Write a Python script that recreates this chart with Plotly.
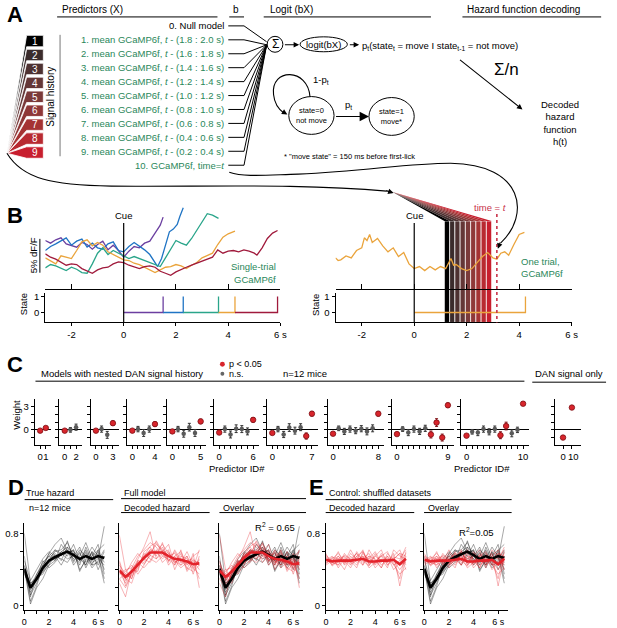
import plotly.graph_objects as go

W, H = 617, 628
FONT = "Liberation Sans, Arial, Helvetica, sans-serif"
GREEN = "#2a875a"
RED = "#d8252c"
DARKRED = "#7d0f14"
CRIMSON = "#c8324a"

# ── data: panel A ────────────────────────────────────────────────────────────
predictor_labels = [
    "0. Null model",
    "1. mean GCaMP6f, <i>t</i> - (1.8 : 2.0 s)",
    "2. mean GCaMP6f, <i>t</i> - (1.6 : 1.8 s)",
    "3. mean GCaMP6f, <i>t</i> - (1.4 : 1.6 s)",
    "4. mean GCaMP6f, <i>t</i> - (1.2 : 1.4 s)",
    "5. mean GCaMP6f, <i>t</i> - (1.0 : 1.2 s)",
    "6. mean GCaMP6f, <i>t</i> - (0.8 : 1.0 s)",
    "7. mean GCaMP6f, <i>t</i> - (0.6 : 0.8 s)",
    "8. mean GCaMP6f, <i>t</i> - (0.4 : 0.6 s)",
    "9. mean GCaMP6f, <i>t</i> - (0.2 : 0.4 s)",
    "10. GCaMP6f, time=<i>t</i>",
]
history_ids = ["1", "2", "3", "4", "5", "6", "7", "8", "9"]
history_colors = ["#000000", "#3b2c2c", "#4e3232", "#643737", "#7b3a3a",
                  "#8f3838", "#a53333", "#b82a31", "#c81e2e"]

# ── data: panel B (dF/F in %) ────────────────────────────────────────────────
purple_t = [-3.0, -2.8, -2.6, -2.4, -2.2, -2.0, -1.8, -1.6, -1.4, -1.2, -1.0, -0.8,
            -0.6, -0.4, -0.2, 0.0, 0.2, 0.4, 0.6, 0.8, 1.0, 1.2, 1.4, 1.51]
purple_y = [4.5, 4.1, 4.6, 4.9, 4.0, 3.8, 3.5, 4.2, 3.9, 3.2, 3.9, 4.4,
            3.1, 3.8, 3.0, 2.0, 2.9, 3.6, 3.4, 4.1, 4.4, 5.6, 6.8, 8.0]
blue_t = [-3.0, -2.8, -2.6, -2.4, -2.2, -2.0, -1.8, -1.6, -1.4, -1.2, -1.0, -0.8, -0.6,
          -0.4, -0.2, 0.0, 0.2, 0.4, 0.6, 0.8, 1.0, 1.2, 1.3, 1.45, 1.6, 1.75, 1.9,
          2.05, 2.15, 2.28]
blue_y = [3.0, 3.6, 4.0, 4.5, 4.9, 3.8, 4.4, 4.7, 3.5, 4.1, 3.4, 3.2, 4.0,
          4.3, 3.0, 2.8, 3.6, 4.2, 3.7, 3.1, 2.4, 1.2, 0.6, 1.8, 3.8, 5.8, 6.2,
          6.9, 8.1, 9.4]
teal_t = [-3.0, -2.8, -2.6, -2.4, -2.2, -2.0, -1.8, -1.6, -1.4, -1.2, -1.0, -0.8, -0.6,
          -0.4, -0.2, 0.0, 0.2, 0.4, 0.6, 0.8, 1.0, 1.2, 1.4, 1.6, 1.8, 2.0, 2.2,
          2.4, 2.6, 2.8, 3.0, 3.2, 3.4, 3.63]
teal_y = [0.4, 0.9, 0.7, 0.3, 0.0, 0.5, 0.2, -0.3, -0.4, 1.0, 2.6, 3.4, 2.4,
          3.0, 2.6, 2.2, 1.8, 2.1, 1.8, 1.6, 1.3, 1.0, 0.6, 1.9, 3.2, 4.5, 4.1,
          3.8, 4.8, 6.0, 7.2, 8.5, 8.3, 7.8]
orange_t = [-3.0, -2.8, -2.6, -2.4, -2.2, -2.0, -1.8, -1.6, -1.4, -1.2, -1.0, -0.8, -0.6,
            -0.4, -0.2, 0.0, 0.2, 0.4, 0.6, 0.8, 1.0, 1.2, 1.4, 1.6, 1.8, 2.0, 2.2,
            2.4, 2.6, 2.8, 3.0, 3.2, 3.4, 3.6, 3.8, 4.0, 4.26]
orange_y = [1.9, 1.4, 1.0, 2.2, 2.0, 1.8, 3.0, 4.3, 4.6, 3.7, 4.2, 3.8, 2.8,
            2.4, 2.0, 1.6, 1.5, 1.1, 0.9, 0.5, 0.2, -0.3, 0.1, 0.5, 0.6, 0.9, 0.7,
            0.3, 0.8, 1.2, 1.9, 2.3, 2.6, 3.9, 5.0, 5.5, 5.9]
maroon_t = [-3.0, -2.8, -2.6, -2.4, -2.2, -2.0, -1.8, -1.6, -1.4, -1.2, -1.0, -0.8, -0.6,
            -0.4, -0.2, 0.0, 0.2, 0.4, 0.6, 0.8, 1.0, 1.2, 1.4, 1.6, 1.8, 2.0, 2.2,
            2.4, 2.6, 2.8, 3.0, 3.2, 3.4, 3.6, 3.8, 4.0, 4.2, 4.4, 4.6, 4.8, 5.0,
            5.1, 5.3, 5.5, 5.7, 5.89]
maroon_y = [2.5, 2.0, 1.7, 1.2, 0.8, 1.0, 0.9, 0.3, 0.0, -0.4, 0.1, 0.4, 0.5,
            1.0, 1.3, 1.2, 0.8, 0.5, 0.3, 0.6, 0.7, 0.5, -0.1, -0.4, -0.7, -0.2, 0.2,
            0.5, 0.8, 1.1, 1.3, 1.6, 2.0, 3.1, 2.6, 2.9, 3.0, 2.8, 3.1, 2.9, 2.6,
            2.3, 3.4, 4.8, 5.6, 6.0]
trial_colors = ["#6b3fa0", "#1f74c4", "#2aa58a", "#eaa43c", "#a01a3c"]
lick_times = [1.51, 2.28, 3.63, 4.26, 5.89]

one_trial_t = [-3.0, -2.9, -2.8, -2.6, -2.4, -2.2, -2.0, -1.9, -1.8, -1.7, -1.6, -1.4,
               -1.2, -1.0, -0.8, -0.6, -0.4, -0.2, 0.0, 0.2, 0.4, 0.6, 0.8, 1.0, 1.2,
               1.4, 1.5, 1.6, 1.8, 2.0, 2.2, 2.4, 2.6, 2.8, 3.0, 3.15, 3.3, 3.45, 3.6,
               3.8, 4.0, 4.2]
one_trial_y = [1.9, 1.5, 1.6, 2.2, 1.9, 3.0, 3.4, 4.9, 4.5, 5.4, 4.2, 4.8,
               3.7, 2.8, 3.4, 2.1, 2.7, 1.0, 0.3, 0.6, 0.0, 0.6, 0.1, 0.6, 0.3,
               1.8, 0.8, 0.9, 0.3, 0.0, 0.3, 1.2, 2.1, 2.7, 1.9, 1.7, 2.6, 2.8, 2.3,
               3.9, 5.4, 5.7]
one_trial_lick = 4.24
time_t = 3.15

# ── data: panel C (weights) ──────────────────────────────────────────────────
nested_w = [
    [-0.1, 0.25],
    [-0.1, 0.0, 0.35],
    [-0.1, 0.1, -0.65, 0.87],
    [-0.1, 0.1, -0.4, 0.1, 0.75],
    [-0.2, 0.1, -0.5, 0.35, -0.4, 1.1],
    [-0.35, 0.1, -0.6, 0.15, 0.1, -0.2, 1.3],
    [-0.4, 0.1, -0.6, 0.3, -0.1, 0.35, -0.8, 2.1],
    [-0.5, 0.2, -0.2, 0.1, -0.1, 0.15, -0.2, 0.2, 2.1],
    [-0.55, 0.1, -0.35, 0.1, -0.2, 0.2, -0.6, 0.95, -1.0, 3.2],
    [-0.75, -0.25, -0.35, 0.1, -0.25, 0.1, -0.7, 0.5, -0.45, 0.0, 3.4],
]
nested_err = [
    [0.15, 0.2],
    [0.15, 0.3, 0.4],
    [0.15, 0.4, 0.45, 0.3],
    [0.15, 0.35, 0.45, 0.4, 0.3],
    [0.15, 0.35, 0.45, 0.5, 0.45, 0.3],
    [0.15, 0.4, 0.45, 0.5, 0.45, 0.45, 0.3],
    [0.15, 0.35, 0.4, 0.5, 0.45, 0.45, 0.4, 0.3],
    [0.15, 0.3, 0.4, 0.4, 0.4, 0.4, 0.45, 0.45, 0.3],
    [0.15, 0.3, 0.4, 0.4, 0.4, 0.4, 0.45, 0.5, 0.45, 0.3],
    [0.15, 0.3, 0.4, 0.4, 0.4, 0.4, 0.45, 0.5, 0.45, 0.35, 0.2],
]
nested_sig = [
    [1, 1],
    [1, 0, 0],
    [1, 0, 0, 1],
    [1, 0, 0, 0, 1],
    [1, 0, 0, 0, 0, 1],
    [1, 0, 0, 0, 0, 0, 1],
    [1, 0, 0, 0, 0, 0, 1, 1],
    [1, 0, 0, 0, 0, 0, 0, 0, 1],
    [1, 0, 0, 0, 0, 0, 1, 1, 1, 1],
    [1, 0, 0, 0, 0, 0, 1, 1, 0, 0, 1],
]
dan_only_w = [-1.0, 2.9]
dan_only_err = [0.15, 0.15]
dan_only_labels = ["0", "\u00a010"]

# ── data: panels D/E (hazard) ────────────────────────────────────────────────
hazard_t = [0, 0.5, 1.0, 1.5, 2.0, 2.5, 3.0, 3.5, 4.0, 4.5, 5.0, 5.5, 6.0, 6.5]
true_mean = [0.41, 0.20, 0.30, 0.42, 0.50, 0.54, 0.57, 0.60, 0.56, 0.52, 0.55, 0.52, 0.55, 0.53]
dec_mean = [0.39, 0.32, 0.38, 0.46, 0.53, 0.59, 0.59, 0.59, 0.55, 0.52, 0.51, 0.49, 0.46, 0.47]
shuf_mean = [0.51, 0.49, 0.50, 0.50, 0.50, 0.51, 0.52, 0.49, 0.49, 0.50, 0.50, 0.51, 0.46, 0.52]
true_mice = [
    [0.45, 0.15, 0.28, 0.40, 0.52, 0.60, 0.62, 0.70, 0.55, 0.48, 0.60, 0.45, 0.62, 0.40],
    [0.38, 0.22, 0.35, 0.48, 0.55, 0.50, 0.68, 0.58, 0.62, 0.40, 0.50, 0.58, 0.45, 0.60],
    [0.80, 0.25, 0.30, 0.38, 0.45, 0.58, 0.50, 0.65, 0.48, 0.60, 0.42, 0.55, 0.68, 0.35],
    [0.42, 0.05, 0.22, 0.45, 0.58, 0.52, 0.60, 0.55, 0.68, 0.50, 0.62, 0.48, 0.52, 0.88],
    [0.36, 0.18, 0.32, 0.35, 0.48, 0.62, 0.55, 0.72, 0.50, 0.58, 0.45, 0.60, 0.40, 0.55],
    [0.50, 0.28, 0.40, 0.52, 0.60, 0.55, 0.52, 0.48, 0.58, 0.45, 0.65, 0.50, 0.58, 0.30],
    [0.40, 0.12, 0.25, 0.42, 0.58, 0.68, 0.75, 0.60, 0.52, 0.62, 0.55, 0.42, 0.50, 0.62],
    [0.44, 0.20, 0.30, 0.50, 0.42, 0.48, 0.58, 0.62, 0.45, 0.55, 0.70, 0.52, 0.60, 0.48],
    [0.35, 0.22, 0.28, 0.38, 0.50, 0.55, 0.45, 0.58, 0.62, 0.38, 0.52, 0.65, 0.55, 0.25],
    [0.55, 0.10, 0.35, 0.45, 0.55, 0.62, 0.58, 0.52, 0.55, 0.65, 0.48, 0.55, 0.62, 0.68],
    [0.40, 0.02, 0.20, 0.30, 0.45, 0.50, 0.60, 0.65, 0.58, 0.50, 0.58, 0.45, 0.48, 0.55],
    [0.38, 0.25, 0.32, 0.40, 0.48, 0.52, 0.56, 0.60, 0.60, 0.52, 0.45, 0.60, 0.52, 0.45],
]
dec_mice = [
    [0.78, 0.40, 0.42, 0.55, 0.62, 0.70, 0.65, 0.55, 0.60, 0.48, 0.52, 0.42, 0.38, 0.45],
    [0.30, 0.20, 0.35, 0.42, 0.55, 0.62, 0.58, 0.65, 0.50, 0.55, 0.45, 0.50, 0.40, 0.52],
    [0.45, 0.35, 0.30, 0.50, 0.48, 0.55, 0.72, 0.60, 0.68, 0.45, 0.58, 0.38, 0.48, 0.30],
    [0.25, 0.10, 0.40, 0.38, 0.60, 0.65, 0.55, 0.70, 0.48, 0.62, 0.50, 0.55, 0.35, 0.55],
    [0.40, 0.30, 0.25, 0.45, 0.52, 0.48, 0.60, 0.52, 0.58, 0.50, 0.42, 0.48, 0.50, 0.40],
    [0.35, 0.38, 0.45, 0.35, 0.45, 0.58, 0.68, 0.62, 0.45, 0.55, 0.60, 0.45, 0.55, 0.60],
    [0.50, 0.28, 0.38, 0.52, 0.65, 0.82, 0.52, 0.58, 0.62, 0.40, 0.55, 0.52, 0.42, 0.35],
    [0.38, 0.25, 0.42, 0.48, 0.42, 0.50, 0.62, 0.48, 0.55, 0.58, 0.48, 0.60, 0.45, 0.50],
    [0.42, 0.32, 0.33, 0.40, 0.58, 0.52, 0.48, 0.55, 0.52, 0.45, 0.62, 0.40, 0.58, 0.20],
    [0.30, 0.35, 0.48, 0.58, 0.50, 0.62, 0.60, 0.68, 0.58, 0.50, 0.45, 0.55, 0.42, 0.62],
    [0.48, 0.22, 0.36, 0.44, 0.55, 0.66, 0.70, 0.58, 0.50, 0.60, 0.48, 0.50, 0.52, 0.44],
    [0.36, 0.40, 0.30, 0.50, 0.46, 0.56, 0.52, 0.62, 0.56, 0.48, 0.52, 0.46, 0.50, 0.48],
]
shuf_mice = [
    [0.55, 0.48, 0.60, 0.45, 0.52, 0.58, 0.45, 0.62, 0.50, 0.42, 0.55, 0.48, 0.30, 0.60],
    [0.48, 0.52, 0.45, 0.58, 0.50, 0.42, 0.60, 0.48, 0.55, 0.62, 0.45, 0.52, 0.58, 0.40],
    [0.52, 0.45, 0.55, 0.48, 0.62, 0.50, 0.55, 0.42, 0.48, 0.55, 0.60, 0.45, 0.50, 0.65],
    [0.50, 0.55, 0.42, 0.52, 0.45, 0.60, 0.50, 0.55, 0.42, 0.50, 0.48, 0.58, 0.22, 0.55],
    [0.45, 0.50, 0.52, 0.55, 0.48, 0.52, 0.62, 0.45, 0.58, 0.45, 0.52, 0.50, 0.45, 0.48],
    [0.58, 0.44, 0.50, 0.40, 0.55, 0.48, 0.52, 0.58, 0.45, 0.52, 0.42, 0.62, 0.55, 0.52],
    [0.50, 0.52, 0.58, 0.50, 0.42, 0.55, 0.48, 0.52, 0.60, 0.48, 0.55, 0.40, 0.48, 0.58],
    [0.54, 0.46, 0.48, 0.56, 0.52, 0.45, 0.58, 0.50, 0.46, 0.58, 0.50, 0.55, 0.62, 0.45],
    [0.48, 0.50, 0.55, 0.46, 0.58, 0.52, 0.45, 0.55, 0.52, 0.42, 0.58, 0.50, 0.40, 0.50],
    [0.52, 0.48, 0.45, 0.52, 0.48, 0.55, 0.60, 0.46, 0.50, 0.55, 0.45, 0.54, 0.52, 0.62],
    [0.46, 0.54, 0.52, 0.48, 0.50, 0.58, 0.50, 0.44, 0.55, 0.50, 0.52, 0.46, 0.35, 0.42],
    [0.56, 0.50, 0.48, 0.54, 0.46, 0.50, 0.55, 0.52, 0.48, 0.56, 0.48, 0.52, 0.58, 0.55],
]
r2_full = 0.65
r2_shuf = 0.05

# ── helpers (background axis is in pixel units) ─────────────────────────────
shapes, annotations, traces = [], [], []
layout = dict(
    width=W, height=H, margin=dict(l=0, r=0, t=0, b=0),
    paper_bgcolor="white", plot_bgcolor="rgba(0,0,0,0)", showlegend=False,
    font=dict(family=FONT, size=9.5, color="black"),
    xaxis=dict(domain=[0, 1], range=[0, W], visible=False, fixedrange=True),
    yaxis=dict(domain=[0, 1], range=[H, 0], visible=False, fixedrange=True),
)


def txt(x, y, s, size=9.5, color="black", xa="center", ya="middle", angle=0):
    annotations.append(dict(x=x, y=y, xref="x", yref="y", text=s, showarrow=False,
                            font=dict(family=FONT, size=size, color=color),
                            xanchor=xa, yanchor=ya, textangle=angle))


def seg(x0, y0, x1, y1, color="black", width=1, dash="solid"):
    shapes.append(dict(type="line", xref="x", yref="y", x0=x0, y0=y0, x1=x1, y1=y1,
                       line=dict(color=color, width=width, dash=dash), layer="above"))


def poly(pts, fill, edge="white", width=0.8, layer="above"):
    path = "M " + " L ".join(f"{x},{y}" for x, y in pts) + " Z"
    shapes.append(dict(type="path", xref="x", yref="y", path=path, fillcolor=fill,
                       line=dict(color=edge, width=width), layer=layer))


def curve(path):
    shapes.append(dict(type="path", xref="x", yref="y", path=path,
                       line=dict(color="black", width=1.1), layer="above"))


def oval(x0, y0, x1, y1):
    shapes.append(dict(type="circle", xref="x", yref="y", x0=x0, y0=y0, x1=x1, y1=y1,
                       line=dict(color="black", width=1), layer="above"))


def arrow(tip, tail, size=1.0, head=2):
    annotations.append(dict(x=tip[0], y=tip[1], ax=tail[0], ay=tail[1], xref="x", yref="y",
                            axref="x", ayref="y", text="", showarrow=True, arrowhead=head,
                            arrowsize=size, arrowwidth=1.1, arrowcolor="black"))


n_ax = [1]


def add_axes(x0, x1, y0, y1, xa, ya):
    n_ax[0] += 1
    k = n_ax[0]
    layout[f"xaxis{k}"] = dict(domain=[x0 / W, x1 / W], anchor=f"y{k}", **xa)
    layout[f"yaxis{k}"] = dict(domain=[1 - y1 / H, 1 - y0 / H], anchor=f"x{k}", **ya)
    return f"x{k}", f"y{k}"


def ax_style(**kw):
    d = dict(showgrid=False, zeroline=False, showline=True, linecolor="black", linewidth=1,
             ticks="outside", ticklen=3, tickwidth=1, tickcolor="black", tickangle=0,
             tickfont=dict(family=FONT, size=9.5), fixedrange=True)
    d.update(kw)
    return d


# ── A: headers ───────────────────────────────────────────────────────────────
txt(12, 13, "<b>A</b>", size=22)
txt(91, 8, "Predictors (X)", size=10)
seg(55, 15, 218, 15)
txt(237, 8, "b", size=10)
seg(230, 15, 245, 15)
txt(293, 8, "Logit (bX)", size=10)
seg(265, 15, 435, 15)
txt(529, 8, "Hazard function decoding", size=10)
seg(467, 15, 608, 15)

# predictor rows and their lines into the sum
for i, lab in enumerate(predictor_labels):
    y = 24 + 14 * i
    txt(227, y, lab, color="black" if i == 0 else GREEN, xa="right")
    seg(229, y, 245, y)
    seg(245, y, 268, 43 if i else 40)

# signal history fan
for i, num in enumerate(history_ids):
    top = 33.5 + 14 * i
    poly([(4, 152), (24, top), (41, top), (41, top + 11.5), (24, top + 11.5)], history_colors[i])
    txt(33, top + 6, num, color="white", size=10)
txt(48, 95, "Signal history", size=10, angle=-90)
seg(58, 33, 58, 155, color="#777777")

# sum, logit, output
oval(268.5, 34.5, 284.5, 50.5)
txt(276.5, 42.5, "Σ", size=12)
arrow((301, 43), (285, 43))
oval(302, 35, 350, 50)
txt(326, 42.5, "logit(bX)", size=9.5)
arrow((362, 43), (351, 43))
txt(363, 44, "p<sub>t</sub>(state<sub>t</sub> = move I state<sub>t-1</sub> = not move)", xa="left")
arrow((528, 108), (463, 57))
txt(512, 68, "Σ/n", size=17)
txt(566, 122, "Decoded<br>hazard<br>function<br>h(t)")

# state diagram
oval(290.5, 95, 336.5, 133)
txt(313.5, 114, "state=0<br>not move", size=7.5)
oval(372, 96, 418, 134)
txt(395, 115, "state=1<br>move*", size=7.5)
arrow((372, 115), (337, 115), size=1.7)
txt(351, 103, "p<sub>t</sub>")
curve("M 312,95 C 310,66 272,66 275,93 C 276,103 280,108 286,112")
arrow((289, 113), (284, 110))
txt(323, 78, "1-p<sub>t</sub>")
txt(352, 155, '* "move state" = 150 ms before first-lick', size=7.5)

# long connecting curves
curve("M 230,171 C 245,176 265,174 300,173 C 370,170 410,162 455,162 C 530,163 536,214 506,242")
arrow((503, 248), (506, 240))
curve("M 4,152 C 20,178 50,184 110,185 C 200,186 300,182 390,190")
arrow((397, 192), (388, 189))

# ── B ────────────────────────────────────────────────────────────────────────
BL0, BL1, BR0, BR1 = 43, 282, 338, 578


def bl_px(s):
    return BL0 + (s + 3) * (BL1 - BL0) / 9


def br_px(s):
    return BR0 + (s + 3) * (BR1 - BR0) / 9


txt(12, 215, "<b>B</b>", size=22)
trace_ax = dict(range=[-2.7, 10.4], visible=False, fixedrange=True)
top_xa = ax_style(range=[-3, 6], tickvals=[-2, 0, 2, 4, 6], ticks="inside", ticklen=5,
                  showticklabels=False)
state_xa = ax_style(range=[-3, 6], tickvals=[-2, 0, 2, 4, 6],
                    ticktext=["-2", "0", "2", "4", "6 s"])
state_ya = ax_style(range=[-0.625, 1.25], tickvals=[0, 1], ticktext=["0", "1"], showline=True)

xa, ya = add_axes(BL0, BL1, 200, 288, top_xa, trace_ax)
for t, v, c in zip([purple_t, blue_t, teal_t, orange_t, maroon_t],
                   [purple_y, blue_y, teal_y, orange_y, maroon_y], trial_colors):
    traces.append(go.Scatter(x=t, y=v, mode="lines", line=dict(color=c, width=1.3),
                             xaxis=xa, yaxis=ya))
xa, ya = add_axes(BL0, BL1, 292, 322, state_xa, state_ya)
prev = 0
for lick, c in zip(lick_times, trial_colors):
    traces.append(go.Scatter(x=[prev, lick, lick], y=[0, 0, 1], mode="lines",
                             line=dict(color=c, width=1.3), xaxis=xa, yaxis=ya))
    prev = lick

# right: one trial with predictor windows
for i in range(9):
    s0 = time_t - 2.0 + 0.2 * i
    x0, x1 = br_px(s0), br_px(s0 + 0.2)
    poly([(x0, 220), (x1, 220), (x1, 322), (x0, 322)], history_colors[i], width=0.7, layer="below")
    poly([(396, 191), (x0, 220), (x1, 220)], history_colors[i], width=0)

xa, ya = add_axes(BR0, BR1, 200, 288, top_xa, trace_ax)
traces.append(go.Scatter(x=one_trial_t, y=one_trial_y, mode="lines",
                         line=dict(color=trial_colors[3], width=1.3), xaxis=xa, yaxis=ya))
xa, ya = add_axes(BR0, BR1, 292, 322, state_xa, state_ya)
traces.append(go.Scatter(x=[0, one_trial_lick, one_trial_lick], y=[0, 0, 1], mode="lines",
                         line=dict(color=trial_colors[3], width=1.3), xaxis=xa, yaxis=ya))

seg(bl_px(0), 222, bl_px(0), 322, width=1.2)
seg(br_px(0), 222, br_px(0), 322, width=1.2)
txt(bl_px(0), 214.5, "Cue")
txt(br_px(0), 214.5, "Cue")
seg(br_px(time_t), 213, br_px(time_t), 322, color=CRIMSON, width=1.6, dash="dot")
txt(495, 206, "time = <i>t</i>", color=CRIMSON)
seg(37.5, 238, 37.5, 272)
txt(31, 255, "5% dF/F", angle=-90)
txt(280, 266, "Single-trial", xa="right", color=GREEN)
txt(280, 279, "GCaMP6f", xa="right", color=GREEN)
txt(525, 261, "One trial,", xa="left", color=GREEN)
txt(525, 273, "GCaMP6f", xa="left", color=GREEN)
txt(21, 304, "State", angle=-90)
txt(317.5, 304, "State", angle=-90)

# ── C ────────────────────────────────────────────────────────────────────────
txt(12, 364, "<b>C</b>", size=22)
txt(37, 373, "Models with nested DAN signal history", xa="left")
shapes.append(dict(type="circle", xref="x", yref="y", x0=220.5, y0=361.5, x1=225.5, y1=366.5,
                   fillcolor=RED, line=dict(width=0)))
shapes.append(dict(type="circle", xref="x", yref="y", x0=221, y0=371.5, x1=225, y1=375.5,
                   fillcolor="#666666", line=dict(width=0)))
txt(228, 364, "p < 0.05", xa="left", size=9)
txt(228, 373.5, "n.s.", xa="left", size=9)
txt(307, 373, "n=12 mice")
seg(33, 381, 530, 381)
txt(575, 373, "DAN signal only")
seg(538, 382, 613, 382)
txt(13, 415, "Weight", angle=-90)
txt(238, 469, "Predictor ID#")
txt(487, 469, "Predictor ID#")

c_left = [32.3, 57.3, 89, 126, 166.7, 214.3, 268.3, 330, 395, 465.7]
UNIT = 5.75


def weight_panel(x0, ids, w, err, sig, ticktext, first, unit=UNIT):
    n = len(ids)
    xa_ = ax_style(range=[-0.95, n], tickvals=ids, ticktext=ticktext)
    ya_ = ax_style(range=[-1.95, 4.0], tickvals=[-1, 0, 1, 2, 3],
                   ticktext=["", "0", "", "", "3"], showticklabels=first,
                   zeroline=True, zerolinecolor="black", zerolinewidth=0.8)
    xa, ya = add_axes(x0, x0 + (n + 0.95) * unit, 399, 445, xa_, ya_)
    ns = [j for j in range(n) if not sig[j]]
    sg = [j for j in range(n) if sig[j]]
    if ns:
        traces.append(go.Scatter(
            x=[ids[j] for j in ns], y=[w[j] for j in ns], mode="markers",
            marker=dict(color="#5a5a5a", size=4.5),
            error_y=dict(type="data", array=[err[j] for j in ns], color="#333333",
                         thickness=1, width=1.5),
            xaxis=xa, yaxis=ya))
    traces.append(go.Scatter(
        x=[ids[j] for j in sg], y=[w[j] for j in sg], mode="markers",
        marker=dict(color=RED, size=5.5, line=dict(color=DARKRED, width=0.8)),
        error_y=dict(type="data", array=[err[j] for j in sg], color=DARKRED,
                     thickness=1, width=1.5),
        xaxis=xa, yaxis=ya))


for k in range(1, 11):
    ids = list(range(k + 1))
    tt = ["0"] + [""] * (k - 1) + [str(k)]
    weight_panel(c_left[k - 1], ids, nested_w[k - 1], nested_err[k - 1], nested_sig[k - 1],
                 tt, k == 1)
weight_panel(560.7, [0, 1], dan_only_w, dan_only_err, [1, 1], dan_only_labels, False, unit=9)

# ── D / E ───────────────────────────────────────────────────────────────────
txt(13, 488, "<b>D</b>", size=22)
txt(47.5, 493, "True hazard", size=9)
seg(22, 500, 112, 500)
txt(47.5, 508, "n=12 mice", size=9)
txt(121, 493, "Full model", xa="left", size=9)
seg(120, 499, 308, 499)
txt(121, 508, "Decoded hazard", xa="left", size=9)
seg(120, 513, 210, 513)
txt(222, 508, "Overlay", xa="left", size=9)
seg(220, 513, 308, 513)
txt(319, 488, "<b>E</b>", size=22)
txt(329, 493, "Control: shuffled datasets", xa="left", size=9)
seg(328, 500, 517, 500)
txt(329, 508, "Decoded hazard", xa="left", size=9)
seg(328, 513, 418, 513)
txt(430, 508, "Overlay", xa="left", size=9)
seg(428, 513, 517, 513)

haz_xa = ax_style(range=[0, 6.8], tickvals=[0, 1, 2, 3, 4, 5, 6],
                  ticktext=["0", "", "2", "", "4", "", "6 s"], tickfont=dict(family=FONT, size=9))
THIN_K = "rgba(0,0,0,0.5)"
THIN_R = "rgba(232,40,50,0.5)"


def hazard_panel(x0, groups, labels):
    ya_ = ax_style(range=[-0.047, 0.922], tickvals=[0, 0.2, 0.4, 0.6, 0.8],
                   ticktext=["0", "", "", "", "0.8"], showticklabels=labels)
    xa, ya = add_axes(x0, x0 + 85, 523, 611, haz_xa, ya_)
    for rows, col in groups[0]:
        for r in rows:
            traces.append(go.Scatter(x=hazard_t, y=r, mode="lines", line=dict(color=col, width=0.7),
                                     xaxis=xa, yaxis=ya))
    for m, col in groups[1]:
        traces.append(go.Scatter(x=hazard_t, y=m, mode="lines", line=dict(color=col, width=2.6),
                                 xaxis=xa, yaxis=ya))


hazard_panel(21.7, ([(true_mice, THIN_K)], [(true_mean, "black")]), True)
hazard_panel(118.3, ([(dec_mice, THIN_R)], [(dec_mean, "#e3232b")]), False)
hazard_panel(220, ([(true_mice, THIN_K), (dec_mice, THIN_R)],
                   [(true_mean, "black"), (dec_mean, "#e3232b")]), False)
hazard_panel(328.3, ([(shuf_mice, THIN_R)], [(shuf_mean, "#e3232b")]), True)
hazard_panel(428.3, ([(true_mice, THIN_K), (shuf_mice, THIN_R)],
                     [(true_mean, "black"), (shuf_mean, "#e3232b")]), False)
txt(276, 528, f"R<sup>2</sup> = {r2_full:.2f}")
txt(481, 533, f"R<sup>2</sup>={r2_shuf:.2f}")

# placeholder trace on background axis so it renders
traces.insert(0, go.Scatter(x=[0], y=[0], mode="markers", marker=dict(size=1, opacity=0),
                            xaxis="x", yaxis="y", hoverinfo="skip"))

layout["shapes"] = shapes
layout["annotations"] = annotations
fig = go.Figure(data=traces, layout=layout)
# page body has a default 8px margin; drop it so the figure fills the window
fig.write_html("out.html", config={"displayModeBar": False},
               post_script="document.body.style.margin='0px';")
